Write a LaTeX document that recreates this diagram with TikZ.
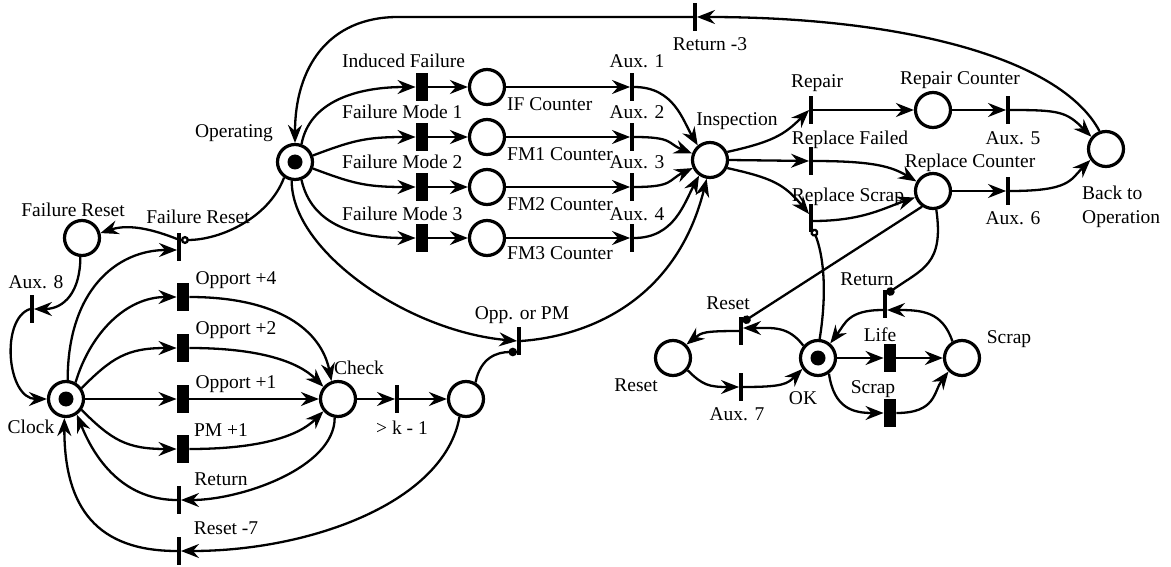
\documentclass[tikz,border=0pt]{standalone}
\usepackage{fontspec}
\setmainfont{Liberation Serif}
\usepackage{tikz}
\usetikzlibrary{arrows.meta}
\tikzstyle{place} = [circle, draw, line width=3.2pt, minimum size=35pt, inner sep=0pt]
\tikzstyle{marked} = [place, path picture={\fill (path picture bounding box.center) circle (7.5pt);}]
\tikzstyle{timed} = [rectangle, fill, minimum width=12.5pt, minimum height=28pt, inner sep=0pt]
\tikzstyle{immed} = [rectangle, fill, minimum width=3.5pt, minimum height=28pt, inner sep=0pt]
\tikzstyle{arc} = [line width=2.3pt, -{Stealth[length=18pt,width=14pt,inset=6pt]}]
\tikzstyle{inhib} = [line width=2.3pt, -{Circle[open,length=8pt]}]
\tikzstyle{test} = [line width=2.3pt, -{Circle[length=8.5pt]}]
\tikzstyle{lbl} = [inner sep=0pt, anchor=base]

\begin{document}
\begin{tikzpicture}[x=1pt, y=-1pt, font=\fontsize{19.5}{24}\selectfont]
\useasboundingbox (0,0) rectangle (1171,567);

% places
\node[marked] (op) at (295,162) {};
\node[place] (pIF) at (487,87) {};
\node[place] (pFM1) at (487,137) {};
\node[place] (pFM2) at (487,187) {};
\node[place] (pFM3) at (487,238) {};
\node[place] (insp) at (710,160) {};
\node[place] (repc) at (933,110) {};
\node[place] (repl) at (933,191) {};
\node[place] (back) at (1106,149) {};
\node[place] (frp) at (82,238) {};
\node[marked] (clock) at (66,399) {};
\node[place] (check) at (338,399) {};
\node[place] (wait) at (466,399) {};
\node[place] (rst) at (673,358) {};
\node[marked] (ok) at (818,358) {};
\node[place] (scrp) at (962,358) {};

% timed transitions
\node[timed] (tIF) at (422,87) {};
\node[timed] (tFM1) at (422,137) {};
\node[timed] (tFM2) at (422,187) {};
\node[timed] (tFM3) at (422,238) {};
\node[timed] (tO4) at (183,297) {};
\node[timed] (tO2) at (183,348) {};
\node[timed] (tO1) at (183,399) {};
\node[timed] (tPM) at (183,449) {};
\node[timed] (tLife) at (890,358) {};
\node[timed] (tScrap) at (890,413) {};

% immediate transitions
\node[immed] (tRet3) at (695,17) {};
\node[immed] (tA1) at (632,87) {};
\node[immed] (tA2) at (632,137) {};
\node[immed] (tA3) at (632,187) {};
\node[immed] (tA4) at (632,238) {};
\node[immed] (tRep) at (811,110) {};
\node[immed] (tRF) at (811,161) {};
\node[immed] (tRS) at (811,218) {};
\node[immed] (tA5) at (1008,110) {};
\node[immed] (tA6) at (1008,191) {};
\node[immed] (tFR) at (179,247) {};
\node[immed] (tA8) at (32,309) {};
\node[immed] (tK) at (397,399) {};
\node[immed] (tOpp) at (519,341) {};
\node[immed] (tRet) at (179,500) {};
\node[immed] (tR7) at (179,551) {};
\node[immed] (tRst) at (741,331) {};
\node[immed] (tA7) at (741,387) {};
\node[immed] (tRetR) at (885,304) {};

% labels
\node[lbl] (opL) at (234,138) {Operating};
\node[lbl] (frpL) at (73,216) {Failure Reset};
\node[lbl] (tFRL) at (198,223) {Failure Reset};
\node[lbl] (tA8L) at (36,288) {Aux. 8};
\node[lbl] (clockL) at (31,433) {Clock};
\node[lbl] (tO4L) at (236,284) {Opport +4};
\node[lbl] (tO2L) at (236,334) {Opport +2};
\node[lbl] (tO1L) at (236,388) {Opport +1};
\node[lbl] (tPML) at (221,436) {PM +1};
\node[lbl] (tRetL) at (221,485) {Return};
\node[lbl] (tR7L) at (226,534) {Reset -7};
\node[lbl] (checkL) at (359,374) {Check};
\node[lbl] (tKL) at (402,434) {> k - 1};
\node[lbl] (tOppL) at (522,319) {Opp. or PM};
\node[lbl, anchor=base west] (tIFL) at (342,68) {Induced Failure};
\node[lbl, anchor=base west] (tFM1L) at (342,119) {Failure Mode 1};
\node[lbl, anchor=base west] (tFM2L) at (342,169) {Failure Mode 2};
\node[lbl, anchor=base west] (tFM3L) at (342,220) {Failure Mode 3};
\node[lbl, anchor=base west] (pIFL) at (507,111) {IF Counter};
\node[lbl, anchor=base west] (pFM1L) at (507,161) {FM1 Counter};
\node[lbl, anchor=base west] (pFM2L) at (507,211) {FM2 Counter};
\node[lbl, anchor=base west] (pFM3L) at (507,259) {FM3 Counter};
\node[lbl] (tA1L) at (637,68) {Aux. 1};
\node[lbl] (tA2L) at (637,119) {Aux. 2};
\node[lbl] (tA3L) at (637,169) {Aux. 3};
\node[lbl] (tA4L) at (637,220) {Aux. 4};
\node[lbl] (tRet3L) at (710,51) {Return -3};
\node[lbl] (inspL) at (737,126) {Inspection};
\node[lbl] (tRepL) at (817,88) {Repair};
\node[lbl] (repcL) at (960,85) {Repair Counter};
\node[lbl] (tA5L) at (1013,145) {Aux. 5};
\node[lbl] (tRFL) at (850,145) {Replace Failed};
\node[lbl] (replL) at (970,168) {Replace Counter};
\node[lbl] (tRSL) at (848,202) {Replace Scrap};
\node[lbl] (tA6L) at (1013,225) {Aux. 6};
\node[lbl, align=left, anchor=north west] (backL) at (1082,186) {Back to\\Operation};
\node[lbl] (rstL) at (636,391) {Reset};
\node[lbl] (tRstL) at (728,309) {Reset};
\node[lbl] (tA7L) at (737,420) {Aux. 7};
\node[lbl] (okL) at (803,404) {OK};
\node[lbl] (tLifeL) at (880,341) {Life};
\node[lbl] (tScrapL) at (873,393) {Scrap};
\node[lbl] (scrpL) at (1009,343) {Scrap};
\node[lbl] (tRetRL) at (867,285) {Return};

% operating and failure modes
\draw[arc] (back.110) .. controls +(-40,-75) and +(200,0) .. (tRet3.east);
\draw[arc] (tRet3.west) -- ++(-295,0) .. controls +(-70,0) and +(0,-75) .. (op.north);
\draw[arc] (op.70) .. controls +(8,-42) and +(-60,0) .. (tIF.west);
\draw[arc] (op.20) .. controls +(40,-15) and +(-50,0) .. (tFM1.west);
\draw[arc] (op.-20) .. controls +(40,15) and +(-50,0) .. (tFM2.west);
\draw[arc] (op.-70) .. controls +(10,45) and +(-60,0) .. (tFM3.west);
\draw[arc] (op.-100) .. controls +(0,70) and +(-110,-10) .. (tOpp.west);
\draw[inhib] (op.235) .. controls +(-15,40) and +(40,0) .. ([yshift=7pt]tFR.east);
\draw[arc] (tIF) -- (pIF);
\draw[arc] (tFM1) -- (pFM1);
\draw[arc] (tFM2) -- (pFM2);
\draw[arc] (tFM3) -- (pFM3);
\draw[arc] (pIF) -- (tA1);
\draw[arc] (pFM1) -- (tA2);
\draw[arc] (pFM2) -- (tA3);
\draw[arc] (pFM3) -- (tA4);
\draw[arc] (tA1.east) .. controls +(40,0) and +(-15,-25) .. (insp.130);
\draw[arc] (tA2.east) .. controls +(40,0) and +(-25,-10) .. (insp.160);
\draw[arc] (tA3.east) .. controls +(40,0) and +(-25,12) .. (insp.205);
\draw[arc] (tA4.east) .. controls +(40,0) and +(-15,28) .. (insp.235);
\draw[arc] (tOpp.east) .. controls +(70,-5) and +(-30,120) .. (insp.260);

% inspection and repair
\draw[arc] (insp.25) .. controls +(45,-10) and +(-25,25) .. (tRep.west);
\draw[arc] (insp.east) -- (tRF.west);
\draw[arc] (insp.-25) .. controls +(45,10) and +(-25,-30) .. ([yshift=4pt]tRS.west);
\draw[arc] (tRep) -- (repc);
\draw[arc] (tRF.east) .. controls +(60,0) and +(-25,-15) .. (repl.150);
\draw[arc] ([yshift=-3pt]tRS.east) .. controls +(50,0) and +(-30,10) .. (repl.200);
\draw[arc] (repc) -- (tA5);
\draw[arc] (repl) -- (tA6);
\draw[arc] (tA5.east) .. controls +(50,0) and +(-25,-25) .. (back.140);
\draw[arc] (tA6.east) .. controls +(60,0) and +(-20,20) .. (back.215);

% component life
\draw[test] (repl.235) -- ([yshift=9pt]tRst.east);
\draw[test] (repl.-80) .. controls +(8,55) and +(35,-25) .. ([yshift=10pt]tRetR.east);
\draw[inhib] (ok.85) .. controls +(8,-50) and +(10,25) .. ([yshift=-11pt]tRS.east);
\draw[arc] (tRst.west) .. controls +(-35,0) and +(15,-12) .. (rst.45);
\draw[arc] (ok.140) .. controls +(-15,-20) and +(30,0) .. ([yshift=3pt]tRst.east);
\draw[arc] (rst.-40) .. controls +(15,15) and +(-30,0) .. (tA7.west);
\draw[arc] (tA7.east) .. controls +(40,0) and +(-15,15) .. (ok.215);
\draw[arc] (ok) -- (tLife);
\draw[arc] (tLife) -- (scrp);
\draw[arc] (ok.-55) .. controls +(5,35) and +(-30,0) .. (tScrap.west);
\draw[arc] (tScrap.east) .. controls +(40,0) and +(-15,20) .. (scrp.225);
\draw[arc] (scrp.120) .. controls +(-10,-30) and +(35,0) .. ([yshift=-6pt]tRetR.east);
\draw[arc] ([yshift=-6pt]tRetR.west) .. controls +(-35,0) and +(15,-20) .. (ok.50);

% clock
\draw[arc] ([yshift=8pt]tFR.west) .. controls +(-20,-8) and +(30,-10) .. (frp.15);
\draw[arc] (frp.265) .. controls +(0,35) and +(30,0) .. (tA8.east);
\draw[arc] (tA8.west) .. controls +(-30,10) and +(-40,0) .. (clock.west);
\draw[arc] (clock.85) .. controls +(0,-90) and +(-60,0) .. ([yshift=-3pt]tFR.west);
\draw[arc] (clock.60) .. controls +(15,-50) and +(-50,0) .. (tO4.west);
\draw[arc] (clock.35) .. controls +(30,-30) and +(-50,0) .. (tO2.west);
\draw[arc] (clock) -- (tO1);
\draw[arc] (clock.-35) .. controls +(30,30) and +(-50,0) .. (tPM.west);
\draw[arc] (tO4.east) .. controls +(90,0) and +(-10,-50) .. (check.110);
\draw[arc] (tO2.east) .. controls +(70,0) and +(-25,-25) .. (check.140);
\draw[arc] (tO1) -- (check);
\draw[arc] (tPM.east) .. controls +(70,0) and +(-25,25) .. (check.220);
\draw[arc] (check.-100) .. controls +(0,50) and +(60,0) .. (tRet.east);
\draw[arc] (tRet.west) .. controls +(-50,0) and +(20,50) .. (clock.-55);
\draw[arc] (tR7.west) .. controls +(-80,0) and +(0,90) .. (clock.-95);
\draw[arc] (check) -- (tK);
\draw[arc] (tK) -- (wait);
\draw[arc] (wait.-110) .. controls +(-15,85) and +(130,0) .. (tR7.east);
\draw[test] (wait.60) .. controls +(5,-25) and +(-20,0) .. ([yshift=-11pt]tOpp.west);
\end{tikzpicture}
\end{document}
